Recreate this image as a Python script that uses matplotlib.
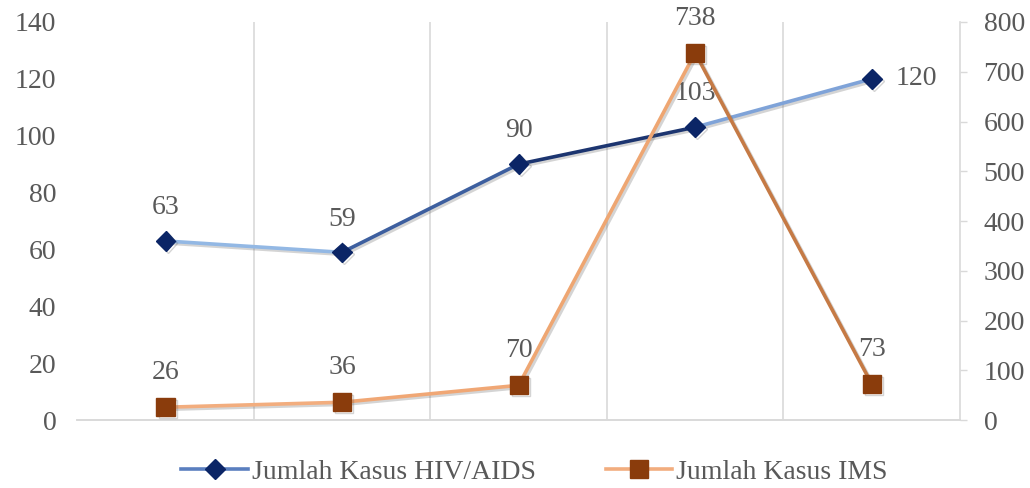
import matplotlib.pyplot as plt
import numpy as np
from matplotlib.collections import LineCollection
from matplotlib.lines import Line2D
import matplotlib.patheffects as pe

plt.rcParams['font.family'] = ['Liberation Serif', 'DejaVu Serif']

# data (x categories have no visible labels in the chart)
points = [0, 1, 2, 3, 4]
hiv = [63, 59, 90, 103, 120]
ims = [26, 36, 70, 738, 73]

# colour of each segment between two points (gradient look)
hiv_seg_col = ['#93b8e4', '#3d5f9f', '#1c3570', '#7fa3d8']
ims_seg_col = ['#f2ad7e', '#f0a775', '#eea672', '#c57a45']
hiv_marker = '#0b2566'
ims_marker = '#8a3c0c'
txt = '#595959'
grid_c = '#d9d9d9'

fig = plt.figure(figsize=(10.30, 4.88), dpi=100)
ax = fig.add_axes([0.075, 0.139, 0.857, 0.816])
ax2 = ax.twinx()

x = np.array(points)
shadow = [pe.SimpleLineShadow(offset=(1.5, -1.5), alpha=0.25, shadow_color='#555555'), pe.Normal()]

# HIV line on left axis
h = np.array(hiv)
segs = np.stack([np.column_stack([x[:-1], h[:-1]]), np.column_stack([x[1:], h[1:]])], axis=1)
lc = LineCollection(segs, colors=hiv_seg_col, linewidths=2.6, capstyle='round', zorder=3)
lc.set_path_effects(shadow)
ax.add_collection(lc)
ax.plot(x, h, ls='none', marker='D', ms=10, color=hiv_marker, zorder=4, path_effects=shadow)

# IMS line on right axis
m = np.array(ims)
segs2 = np.stack([np.column_stack([x[:-1], m[:-1]]), np.column_stack([x[1:], m[1:]])], axis=1)
lc2 = LineCollection(segs2, colors=ims_seg_col, linewidths=2.6, capstyle='round', zorder=3)
lc2.set_path_effects(shadow)
ax2.add_collection(lc2)
ax2.plot(x, m, ls='none', marker='s', ms=13, color=ims_marker, zorder=4, path_effects=shadow)

# labels
fs = 20
for i, v in enumerate(hiv):
    if i == len(hiv) - 1:
        ax.annotate(str(v), (x[i], v), xytext=(17, 0), textcoords='offset points',
                    ha='left', va='center', fontsize=fs, color=txt)
    else:
        ax.annotate(str(v), (x[i], v), xytext=(0, 15), textcoords='offset points',
                    ha='center', va='bottom', fontsize=fs, color=txt)
for i, v in enumerate(ims):
    ax2.annotate(str(v), (x[i], v), xytext=(0, 16), textcoords='offset points',
                 ha='center', va='bottom', fontsize=fs, color=txt)

ax.set_xlim(-0.5, 4.5)
ax.set_ylim(0, 140)
ax.set_yticks(range(0, 141, 20))
ax2.set_ylim(0, 800)
ax2.set_yticks(range(0, 801, 100))

ax.set_xticks([0.5, 1.5, 2.5, 3.5])
ax.set_xticklabels([])
ax.tick_params(axis='x', length=0)
ax.grid(axis='x', color=grid_c, lw=1.2)
ax.set_axisbelow(True)

ax.tick_params(axis='y', length=0, pad=15, labelsize=fs, labelcolor=txt)
ax2.tick_params(axis='y', length=5, width=1, color=grid_c, pad=12, labelsize=fs, labelcolor=txt)

for a in (ax, ax2):
    for s in ('top', 'left'):
        a.spines[s].set_visible(False)
    a.spines['right'].set_visible(a is ax2)
    a.spines['bottom'].set_color(grid_c)
    a.spines['bottom'].set_linewidth(1.2)
ax2.spines['right'].set_color(grid_c)
ax2.spines['right'].set_linewidth(1.2)

handles = [
    Line2D([0], [0], color='#5a7fbf', lw=2.6, marker='D', ms=10, mfc=hiv_marker, mec=hiv_marker),
    Line2D([0], [0], color='#f2ad7e', lw=2.6, marker='s', ms=13, mfc=ims_marker, mec=ims_marker),
]
fig.legend(handles, ['Jumlah Kasus HIV/AIDS', 'Jumlah Kasus IMS'], loc='lower center',
           bbox_to_anchor=(0.519, -0.045), ncol=2, frameon=False, fontsize=fs,
           labelcolor=txt, handlelength=2.4, handletextpad=0.15, columnspacing=2.5)

fig.savefig('out.png', dpi=100)
